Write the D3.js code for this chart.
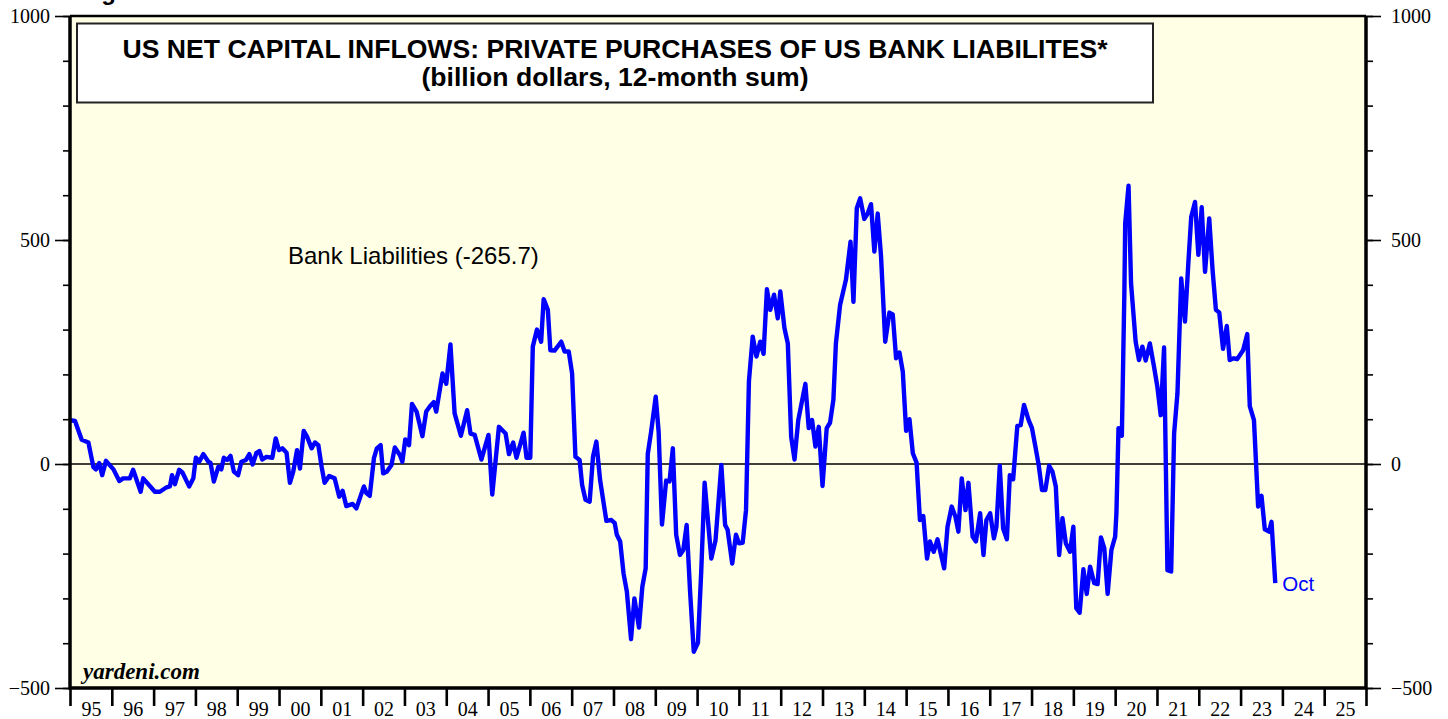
<!DOCTYPE html>
<html>
<head>
<meta charset="utf-8">
<script src="https://cdn.jsdelivr.net/npm/d3@7"></script>
<style>
  html, body { margin: 0; padding: 0; background: #fff; }
  svg { display: block; }
</style>
</head>
<body>
<script>
// DATA (decimal years / billion $)
const dates = [
  1995.00, 1995.12, 1995.28, 1995.44, 1995.56, 1995.62, 1995.70, 1995.77, 1995.86, 1996.04,
  1996.18, 1996.27, 1996.43, 1996.51, 1996.69, 1996.75, 1997.03, 1997.15, 1997.31, 1997.39,
  1997.44, 1997.51, 1997.61, 1997.69, 1997.85, 1997.95, 1998.01, 1998.09, 1998.19, 1998.31,
  1998.36, 1998.44, 1998.55, 1998.62, 1998.68, 1998.76, 1998.84, 1998.92, 1999.02, 1999.10,
  1999.21, 1999.29, 1999.37, 1999.46, 1999.53, 1999.60, 1999.70, 1999.84, 1999.92, 2000.00,
  2000.08, 2000.18, 2000.26, 2000.34, 2000.43, 2000.50, 2000.59, 2000.67, 2000.78, 2000.86,
  2000.94, 2001.02, 2001.09, 2001.20, 2001.33, 2001.44, 2001.52, 2001.61, 2001.76, 2001.85,
  2002.03, 2002.09, 2002.17, 2002.27, 2002.34, 2002.43, 2002.49, 2002.58, 2002.69, 2002.77,
  2002.89, 2002.95, 2003.02, 2003.11, 2003.18, 2003.29, 2003.43, 2003.52, 2003.62, 2003.70,
  2003.76, 2003.91, 2004.00, 2004.10, 2004.20, 2004.35, 2004.50, 2004.58, 2004.68, 2004.84,
  2005.01, 2005.10, 2005.26, 2005.42, 2005.50, 2005.60, 2005.68, 2005.85, 2005.92, 2006.01,
  2006.07, 2006.17, 2006.27, 2006.33, 2006.43, 2006.49, 2006.59, 2006.75, 2006.83, 2006.93,
  2007.01, 2007.09, 2007.19, 2007.25, 2007.33, 2007.43, 2007.51, 2007.59, 2007.68, 2007.83,
  2007.95, 2008.03, 2008.08, 2008.16, 2008.24, 2008.32, 2008.42, 2008.50, 2008.61, 2008.69,
  2008.77, 2008.82, 2008.90, 2009.01, 2009.08, 2009.16, 2009.26, 2009.34, 2009.42, 2009.50,
  2009.59, 2009.67, 2009.75, 2009.83, 2009.92, 2010.02, 2010.10, 2010.18, 2010.34, 2010.44,
  2010.58, 2010.67, 2010.73, 2010.84, 2010.93, 2011.00, 2011.09, 2011.17, 2011.24, 2011.33,
  2011.42, 2011.51, 2011.59, 2011.67, 2011.75, 2011.84, 2011.93, 2011.99, 2012.09, 2012.17,
  2012.25, 2012.33, 2012.42, 2012.59, 2012.67, 2012.75, 2012.83, 2012.91, 2013.00, 2013.10,
  2013.18, 2013.26, 2013.32, 2013.42, 2013.56, 2013.67, 2013.74, 2013.82, 2013.90, 2014.00,
  2014.08, 2014.16, 2014.24, 2014.32, 2014.40, 2014.50, 2014.60, 2014.68, 2014.76, 2014.84,
  2014.92, 2015.00, 2015.08, 2015.16, 2015.25, 2015.33, 2015.41, 2015.50, 2015.57, 2015.66,
  2015.75, 2015.91, 2015.99, 2016.09, 2016.18, 2016.25, 2016.33, 2016.42, 2016.49, 2016.59,
  2016.67, 2016.77, 2016.85, 2016.92, 2017.01, 2017.10, 2017.16, 2017.24, 2017.32, 2017.41,
  2017.48, 2017.56, 2017.66, 2017.74, 2017.82, 2017.93, 2018.01, 2018.10, 2018.17, 2018.25,
  2018.33, 2018.42, 2018.50, 2018.58, 2018.66, 2018.74, 2018.82, 2018.92, 2019.00, 2019.07,
  2019.15, 2019.24, 2019.32, 2019.40, 2019.50, 2019.58, 2019.66, 2019.74, 2019.82, 2019.91,
  2020.00, 2020.03, 2020.08, 2020.16, 2020.22, 2020.24, 2020.32, 2020.38, 2020.43, 2020.49,
  2020.57, 2020.65, 2020.73, 2020.83, 2020.93, 2021.01, 2021.09, 2021.17, 2021.25, 2021.34,
  2021.41, 2021.49, 2021.58, 2021.67, 2021.75, 2021.82, 2021.91, 2021.99, 2022.07, 2022.15,
  2022.25, 2022.33, 2022.41, 2022.49, 2022.58, 2022.67, 2022.74, 2022.84, 2022.92, 2023.06,
  2023.16, 2023.22, 2023.32, 2023.42, 2023.50, 2023.58, 2023.68, 2023.74, 2023.83
];
const bankLiabilities = [
  98, 96, 54, 48, -7, -12, 2, -25, 7, -12,
  -38, -32, -32, -13, -62, -32, -62, -62, -52, -50,
  -25, -45, -13, -19, -50, -32, 14, 5, 22, 5,
  3, -39, -6, -12, 14, 9, 18, -17, -25, 5,
  9, 22, -1, 25, 29, 10, 16, 14, 57, 31,
  35, 25, -42, -17, 31, -10, 74, 61, 35, 48,
  42, -7, -42, -27, -32, -73, -60, -94, -89, -99,
  -50, -65, -71, 13, 35, 42, -21, -17, -2, 37,
  20, 5, 55, 42, 134, 117, 62, 117, 130, 138,
  117, 202, 179, 267, 113, 63, 120, 68, 65, 10,
  65, -68, 83, 68, 22, 48, 14, 70, 14, 14,
  262, 300, 273, 368, 344, 254, 253, 273, 251, 251,
  202, 16, 9, -47, -80, -84, 16, 50, -36, -127,
  -125, -132, -158, -173, -244, -285, -391, -300, -365, -274,
  -233, 22, 72, 150, 72, -135, -37, -39, 35, -158,
  -203, -192, -136, -281, -419, -399, -237, -42, -211, -171,
  -2, -136, -147, -222, -158, -177, -176, -103, 185, 284,
  240, 273, 246, 390, 344, 378, 325, 385, 303, 269,
  61, 10, 98, 179, 80, 98, 39, 83, -49, 80,
  92, 143, 269, 355, 411, 496, 362, 571, 593, 547,
  559, 580, 474, 559, 463, 273, 338, 334, 236, 249,
  206, 74, 100, 24, 3, -125, -116, -211, -173, -196,
  -168, -233, -140, -95, -118, -151, -32, -103, -42, -162,
  -173, -110, -203, -125, -110, -166, -140, -4, -144, -168,
  -25, -34, 85, 87, 132, 98, 80, 35, -2, -58,
  -58, -4, -17, -50, -203, -121, -177, -196, -140, -322,
  -332, -235, -290, -229, -266, -268, -164, -188, -290, -192,
  -162, -110, 80, 63, 381, 537, 621, 403, 344, 273,
  232, 262, 231, 269, 217, 172, 109, 260, -237, -240,
  68, 158, 414, 318, 448, 552, 585, 467, 573, 429,
  548, 433, 344, 338, 257, 308, 232, 236, 234, 254,
  290, 129, 98, -95, -71, -146, -151, -129, -265.7
];
const yMajorTicks = [-500, 0, 500, 1000];
const yMinorTicks = d3.range(-500, 1001, 100);
const yearTicks = d3.range(1995, 2027);
const yearLabels = d3.range(1995, 2026);
const titleLines = ["US NET CAPITAL INFLOWS: PRIVATE PURCHASES OF US BANK LIABILITES*",
                    "(billion dollars, 12-month sum)"];
const seriesLabel = "Bank Liabilities (-265.7)";
const lastLabel = "Oct";

// SETUP
const W = 1448, H = 719;
const margin = { top: 16, right: 82, bottom: 31, left: 70 };
const svg = d3.select("body").append("svg").attr("width", W).attr("height", H);

const x = d3.scaleLinear().domain([1995, 2026]).range([margin.left, W - margin.right]);
const y = d3.scaleLinear().domain([-500, 1000]).range([H - margin.bottom, margin.top]);

const serif = "'Liberation Serif', 'Times New Roman', serif";
const sans = "'Liberation Sans', Arial, sans-serif";

// figure caption, cut off by the top edge as in the original
svg.append("text")
  .attr("x", 80).attr("y", 0)
  .style("font-family", sans).style("font-weight", "bold").style("font-size", "24px")
  .text("Figure 5.");

// plot background
svg.append("rect")
  .attr("x", x(1995)).attr("y", y(1000))
  .attr("width", x(2026) - x(1995)).attr("height", y(-500) - y(1000))
  .attr("fill", "#ffffe6");

// zero line
svg.append("line")
  .attr("x1", x(1995)).attr("x2", x(2026))
  .attr("y1", y(0)).attr("y2", y(0))
  .attr("stroke", "#000").attr("stroke-width", 1.4);

// AXES
function styleAxis(g, size) {
  g.select(".domain").remove();
  g.selectAll("line").attr("stroke", "#000").attr("stroke-width", 1.6);
  g.selectAll("text").style("font-family", serif).style("font-size", size).attr("fill", "#000");
}

svg.append("g")
  .attr("transform", "translate(" + x(1995) + ",0)")
  .call(d3.axisLeft(y).tickValues(yMinorTicks).tickSize(7).tickFormat(""))
  .call(styleAxis, "20px");
svg.append("g")
  .attr("transform", "translate(" + x(1995) + ",0)")
  .call(d3.axisLeft(y).tickValues(yMajorTicks).tickSize(15).tickPadding(5).tickFormat(d3.format("d")))
  .call(styleAxis, "20px");

svg.append("g")
  .attr("transform", "translate(" + x(2026) + ",0)")
  .call(d3.axisRight(y).tickValues(yMinorTicks).tickSize(7).tickFormat(""))
  .call(styleAxis, "20px");
svg.append("g")
  .attr("transform", "translate(" + x(2026) + ",0)")
  .call(d3.axisRight(y).tickValues(yMajorTicks).tickSize(15).tickPadding(10).tickFormat(d3.format("d")))
  .call(styleAxis, "20px");

// year ticks and labels between them
const xTickAxis = svg.append("g")
  .attr("transform", "translate(0," + y(-500) + ")")
  .call(d3.axisBottom(x).tickValues(yearTicks).tickSize(18).tickFormat(""))
  .call(styleAxis, "20px");
xTickAxis.selectAll("line").attr("stroke-width", 2.6);

const xLabelAxis = svg.append("g")
  .attr("transform", "translate(0," + y(-500) + ")")
  .call(d3.axisBottom(x).tickValues(yearLabels.map(d => d + 0.5)).tickSize(0)
    .tickFormat(d => String(Math.floor(d) % 100).padStart(2, "0")))
  .call(styleAxis, "20px");
xLabelAxis.selectAll("text").attr("y", 28).attr("dy", 0);

// SERIES
const series = dates.map((d, i) => ({ date: d, value: bankLiabilities[i] }));
const line = d3.line().x(d => x(d.date)).y(d => y(d.value));

svg.append("path")
  .datum(series)
  .attr("d", line)
  .attr("fill", "none")
  .attr("stroke", "#0000ff")
  .attr("stroke-width", 4.4)
  .attr("stroke-linejoin", "round");

// plot border
const px0 = x(1995), px1 = x(2026), py0 = y(1000), py1 = y(-500);
svg.append("line").attr("x1", px0).attr("x2", px1).attr("y1", py0).attr("y2", py0)
  .attr("stroke", "#000").attr("stroke-width", 2.5);
svg.append("path")
  .attr("d", "M" + px0 + "," + py0 + "V" + py1 + "H" + px1 + "V" + py0)
  .attr("fill", "none").attr("stroke", "#000").attr("stroke-width", 3.5);

// TITLE BOX
svg.append("rect")
  .attr("x", 77).attr("y", 23.5).attr("width", 1076).attr("height", 79)
  .attr("fill", "#fff").attr("stroke", "#222").attr("stroke-width", 2);

svg.selectAll(".title")
  .data(titleLines)
  .enter().append("text")
  .attr("class", "title")
  .attr("x", 615)
  .attr("y", (d, i) => i === 0 ? 58 : 86)
  .attr("text-anchor", "middle")
  .style("font-family", sans).style("font-weight", "bold").style("font-size", "26.6px")
  .text(d => d);

// annotations
svg.append("text")
  .attr("x", 288).attr("y", 264)
  .style("font-family", sans).style("font-size", "24px")
  .text(seriesLabel);

const last = series[series.length - 1];
svg.append("text")
  .attr("x", x(last.date) + 7).attr("y", y(last.value) + 8)
  .style("font-family", sans).style("font-size", "20.5px").attr("fill", "#0000ff")
  .text(lastLabel);

svg.append("text")
  .attr("x", 83).attr("y", 679)
  .style("font-family", serif).style("font-weight", "bold").style("font-style", "italic")
  .style("font-size", "23px")
  .text("yardeni.com");
</script>
</body>
</html>
